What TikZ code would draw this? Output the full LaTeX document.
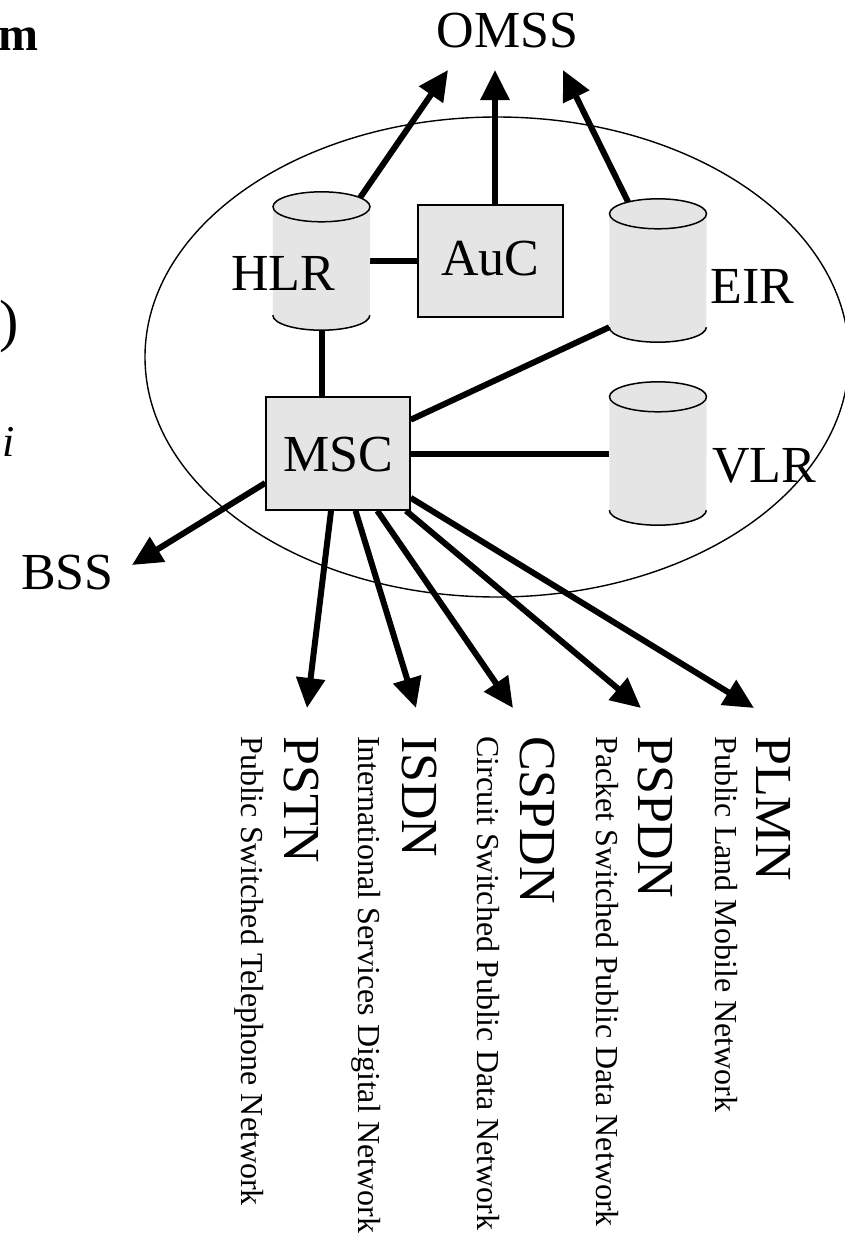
\documentclass[tikz,border=0pt]{standalone}
\usepackage{fontspec}
\setmainfont{Liberation Serif}
\usetikzlibrary{arrows.meta,calc}
\pgfdeclarelayer{back}
\pgfsetlayers{back,main}
\definecolor{unitgray}{RGB}{229,229,229}
\newcommand\lblbig{\fontsize{52}{60}\selectfont}
\newcommand\lblsmall{\fontsize{32}{38}\selectfont}
\tikzset{
  link/.style={line width=6pt},
  arr/.style={line width=6pt,-{Triangle[length=30pt,width=28pt]}},
  unitbox/.style={draw=black,line width=1.5pt,fill=unitgray,minimum width=145pt,
    minimum height=112pt,inner sep=0pt,font=\lblbig},
  cylbody/.style={inner sep=0pt,minimum width=97pt},
  biglabel/.style={font=\lblbig,inner sep=0pt,anchor=base},
  netname/.style={font=\lblbig,inner sep=0pt,rotate=-90,anchor=base west},
  netlong/.style={font=\lblsmall,inner sep=0pt,rotate=-90,anchor=base west},
  zone/.style={line width=1.4pt},
}
% database cylinder drawn around an invisible node (body between cap centres)
\newcommand\dbcylinder[1]{%
  \fill[unitgray] (#1.north west) -- (#1.south west)
     arc[start angle=180,end angle=360,x radius=48.5pt,y radius=15pt]
     -- (#1.north east)
     arc[start angle=0,end angle=180,x radius=48.5pt,y radius=15pt] -- cycle;
  \draw[line width=1.5pt] (#1.north) ellipse[x radius=48.5pt,y radius=15pt];
  \draw[line width=1.5pt] (#1.south west)
     arc[start angle=180,end angle=360,x radius=48.5pt,y radius=15pt];
}
\begin{document}
\begin{tikzpicture}[x=1pt,y=1pt]
\useasboundingbox (0,0) rectangle (845,-1235);

% registers
\node[cylbody,minimum height=108pt] (hlr) at (321.5,-261) {};
\node[cylbody,minimum height=113pt] (eir) at (658,-270.5) {};
\node[cylbody,minimum height=113pt] (vlr) at (658,-453.5) {};
\dbcylinder{hlr}
\dbcylinder{eir}
\dbcylinder{vlr}

% switching and authentication units
\node[unitbox,text height=35pt,text depth=7pt] (auc) at (490.5,-261) {AuC};
\node[unitbox,minimum width=144pt,minimum height=113pt,text height=35pt,text depth=-9pt]
  (msc) at (338,-453.5) {MSC};

% labels
\node[biglabel] (omss) at (507.5,-47) {OMSS};
\node[biglabel] (hlrname) at (283,-290) {HLR};
\node[biglabel] (eirname) at (752.5,-303) {EIR};
\node[biglabel] (vlrname) at (764,-482) {VLR};
\node[biglabel] (bss) at (67.5,-589) {BSS};

% fragments at the left edge
\node[font=\fontsize{48}{56}\selectfont\bfseries,inner sep=0pt,anchor=base east] (fragm) at (39,-50) {m};
\node[font=\fontsize{58}{66}\selectfont,inner sep=0pt,anchor=base east] (fragp) at (19,-340) {)};
\node[font=\fontsize{44}{52}\selectfont\itshape,inner sep=0pt,anchor=base west] (fragi) at (2,-456) {i};

% external networks
\node[netname] (pstn) at (284,-736) {PSTN};
\node[netlong] (pstnlong) at (241,-736) {Public Switched Telephone Network};
\node[netname] (isdn) at (402,-736) {ISDN};
\node[netlong] (isdnlong) at (358,-736) {International Services Digital Network};
\node[netname] (cspdn) at (520,-736) {CSPDN};
\node[netlong] (cspdnlong) at (477,-736) {Circuit Switched Public Data Network};
\node[netname] (pspdn) at (638,-736) {PSPDN};
\node[netlong] (pspdnlong) at (596,-736) {Packet Switched Public Data Network};
\node[netname] (plmn) at (756,-736) {PLMN};
\node[netlong] (plmnlong) at (715,-736) {Public Land Mobile Network};

% arrow end points
\coordinate (omssL) at (448,-70);
\coordinate (omssC) at (495,-70);
\coordinate (omssR) at (563,-70);
\coordinate (bssTip) at (132,-565);
\coordinate (pstnTip) at (307,-708);
\coordinate (isdnTip) at (416,-708);
\coordinate (cspdnTip) at (513,-708);
\coordinate (pspdnTip) at (641,-708);
\coordinate (plmnTip) at (754,-708);

\begin{pgfonlayer}{back}
  \draw[zone] (497,-357) ellipse[x radius=352pt,y radius=240pt];
  \draw[arr] ($(hlr.north)+(38.5,9)$) -- (omssL);
  \draw[arr] (auc.north -| omssC) -- (omssC);
  \draw[arr] ($(eir.north)+(-30,12)$) -- (omssR);
  \draw[link] (hlr) -- (auc);
  \draw[link] (hlr.south) -- (hlr.south |- msc.north);
  \draw[link] (eir.south west) -- (msc);
  \draw[link] (msc) -- (vlr);
  \draw[arr] ($(msc.west)+(0,-29.5)$) -- (bssTip);
  \draw[arr] (msc) -- (pstnTip);
  \draw[arr] (msc) -- (isdnTip);
  \draw[arr] (msc) -- (cspdnTip);
  \draw[arr] (msc) -- (pspdnTip);
  \draw[arr] (msc) -- (plmnTip);
\end{pgfonlayer}
\end{tikzpicture}
\end{document}
